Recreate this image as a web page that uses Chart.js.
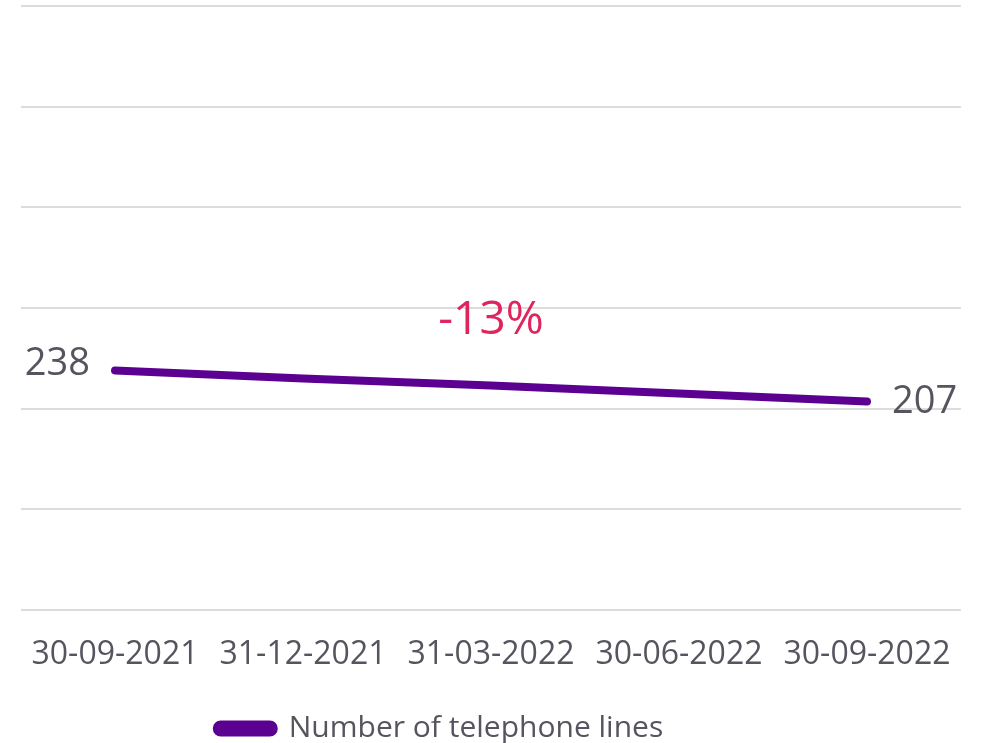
<!DOCTYPE html>
<html>
<head>
<meta charset="utf-8">
<script src="https://cdn.jsdelivr.net/npm/chart.js@4.4.0/dist/chart.umd.min.js"></script>
<style>
  html, body { margin: 0; padding: 0; background: #fff; }
  #wrap { width: 985px; height: 743px; }
</style>
</head>
<body>
<div id="wrap"><canvas id="chart"></canvas></div>
<script>
const dates = ['30-09-2021', '31-12-2021', '31-03-2022', '30-06-2022', '30-09-2022'];
const telephoneLines = [238, 230, 223, 215, 207];
const changeLabel = '-13%';
const yTicks = [0, 600, 100]; // min, max, step

const fontFamily = '"Open Sans", Lato, sans-serif';
const purple = '#5c0091';
const grey = '#55555f';

const endLabels = {
  id: 'endLabels',
  afterLayout(chart) {
    // legend sits left of centre and low in the original
    const lg = chart.legend;
    const dy = 731 - (lg.top + lg.bottom) / 2;
    lg.left -= 51;
    lg.right -= 51;
    lg.top += dy;
    lg.bottom += dy;
  },
  afterDatasetsDraw(chart) {
    const ctx = chart.ctx;
    const meta = chart.getDatasetMeta(0);
    const first = meta.data[0];
    const last = meta.data[meta.data.length - 1];
    ctx.save();
    ctx.font = '38px ' + fontFamily;
    ctx.fillStyle = grey;
    ctx.textBaseline = 'middle';
    ctx.textAlign = 'right';
    ctx.fillText(String(telephoneLines[0]), first.x - 25, first.y - 6);
    ctx.textAlign = 'left';
    ctx.fillText(String(telephoneLines[telephoneLines.length - 1]), last.x + 25, last.y + 1);

    const mid = meta.data[2];
    ctx.textAlign = 'center';
    ctx.fillStyle = '#e0245e';
    ctx.font = '46px ' + fontFamily;
    ctx.fillText(changeLabel, mid.x, mid.y - 65);
    ctx.restore();
  }
};

new Chart(document.getElementById('chart'), {
  type: 'line',
  data: {
    labels: dates,
    datasets: [{
      label: 'Number of telephone lines',
      data: telephoneLines,
      borderColor: purple,
      backgroundColor: purple,
      borderWidth: 8,
      borderCapStyle: 'round',
      pointRadius: 0,
      tension: 0
    }]
  },
  options: {
    responsive: true,
    maintainAspectRatio: false,
    animation: false,
    layout: { padding: { left: 21, right: 24, top: 6, bottom: 0 } },
    scales: {
      x: {
        offset: true,
        afterFit(scale) { scale.height = 88; },
        grid: { display: false },
        border: { display: false },
        ticks: {
          color: grey,
          padding: 18,
          maxRotation: 0,
          autoSkip: false,
          font: { family: fontFamily, size: 32 }
        }
      },
      y: {
        min: yTicks[0],
        max: yTicks[1],
        afterFit(scale) { scale.width = 0; },
        border: { display: false },
        grid: { color: '#dcdcdc', lineWidth: 2, drawTicks: false },
        ticks: { display: false, stepSize: yTicks[2] }
      }
    },
    plugins: {
      legend: {
        position: 'bottom',
        labels: {
          color: grey,
          boxWidth: 57,
          boxHeight: 8,
          useBorderRadius: true,
          borderRadius: 4,
          padding: 5,
          font: { family: fontFamily, size: 30 }
        }
      },
      tooltip: { enabled: false }
    }
  },
  plugins: [endLabels]
});
</script>
</body>
</html>
